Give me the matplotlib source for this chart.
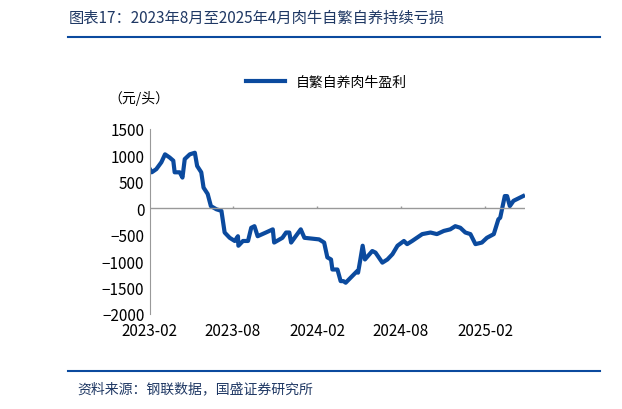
import matplotlib
matplotlib.use("Agg")
import matplotlib.pyplot as plt
import pandas as pd

plt.rcParams['font.family'] = ['Noto Sans CJK SC', 'DejaVu Sans']

# days after 2023-02-01 and profit (元/头)
days = [0, 4, 14, 25, 33, 43, 51, 54, 65, 71, 76, 87, 98, 103, 112, 117, 126, 133, 145, 156, 163, 174,
        185, 192, 193, 203, 214, 221, 228, 235, 235, 253, 268, 271, 289, 297, 304, 308, 318, 329,
        337, 369, 380, 387, 395, 398, 409, 416, 422, 427, 452, 454, 459, 464, 469, 485, 492, 507,
        518, 529, 540, 554, 561, 572, 594, 612, 626, 641, 655, 666, 677, 688, 699, 710, 724, 735,
        750, 760, 764, 774, 779, 785, 793, 814]
profit = [740, 680, 740, 870, 1020, 960, 900, 680, 680, 580, 930, 1020, 1050, 800, 680, 390, 270, 40,
          -20, -50, -460, -560, -620, -530, -710, -620, -620, -370, -340, -530, -530, -460, -400, -650,
          -560, -460, -460, -650, -530, -400, -560, -590, -650, -930, -970, -1160, -1160, -1380, -1380,
          -1410, -1190, -1220, -970, -710, -970, -810, -840, -1030, -970, -870, -710, -620, -680, -620,
          -490, -460, -490, -430, -400, -340, -370, -460, -490, -680, -650, -560, -490, -210, -180,
          230, 230, 40, 140, 230]
xtick_labels = ['2023-02', '2023-08', '2024-02', '2024-08', '2025-02']
series_name = '自繁自养肉牛盈利'

start = pd.Timestamp('2023-02-01')
dates = [start + pd.Timedelta(days=d) for d in days]

blue = '#0b4a9e'
fig = plt.figure(figsize=(6.22, 4.10), dpi=100)
ax = fig.add_axes([0.241, 0.232, 0.603, 0.451])
ax.plot(dates, profit, color=blue, lw=3.0, label=series_name, solid_joinstyle='round')
ax.set_ylim(-2000, 1500)
ax.set_yticks(range(-2000, 1501, 500))
ax.set_xlim(start, start + pd.Timedelta(days=818))
tick_dates = [pd.Timestamp(t + '-01') for t in xtick_labels]
ax.set_xticks(tick_dates)
ax.set_xticklabels(xtick_labels)
ax.tick_params(axis='x', length=0, labelsize=11, pad=6)
ax.tick_params(axis='y', length=0, labelsize=11, pad=4)
for s in ['top', 'right', 'bottom']:
    ax.spines[s].set_visible(False)
ax.spines['left'].set_color('#999999')
ax.axhline(0, color='#999999', lw=1)
ax.vlines(tick_dates[1:], 0, 45, color='#999999', lw=1)
ax.legend(loc='lower center', bbox_to_anchor=(0.47, 1.15), frameon=False, fontsize=10,
          handlelength=2.8)
fig.text(0.175, 0.76, '（元/头）', fontsize=10, ha='left', va='center')

fig.text(0.11, 0.955, '图表17：2023年8月至2025年4月肉牛自繁自养持续亏损', fontsize=11,
         color='#1f3864', style='italic', ha='left', va='center')
fig.add_artist(plt.Line2D([0.11, 0.965], [0.908, 0.908], color=blue, lw=1.5))
fig.add_artist(plt.Line2D([0.11, 0.965], [0.092, 0.092], color=blue, lw=1.5))
fig.text(0.125, 0.05, '资料来源：钢联数据，国盛证券研究所', fontsize=10,
         color='#1f3864', style='italic', ha='left', va='center')
fig.savefig('out.png', dpi=100)
